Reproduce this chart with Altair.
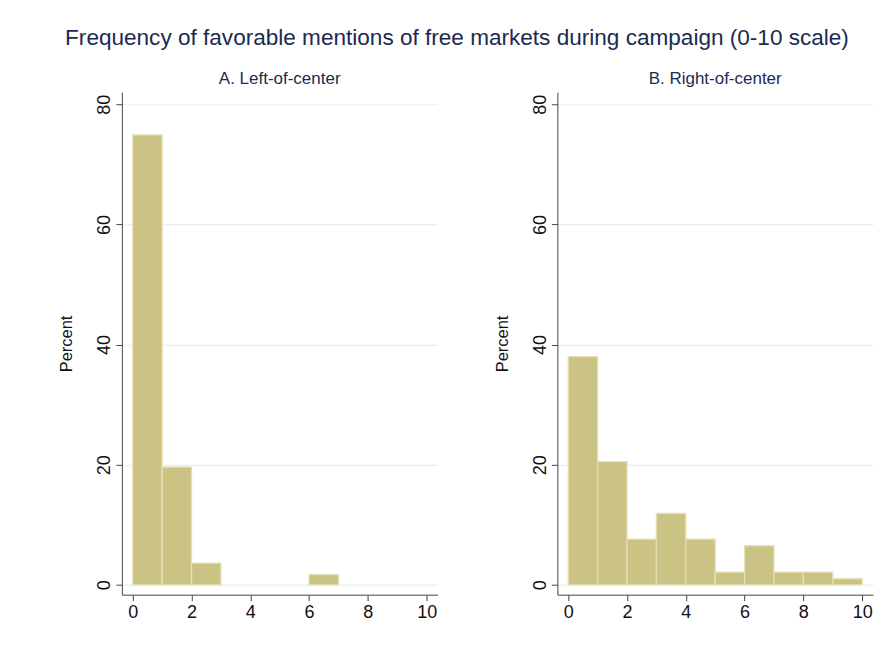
import altair as alt
import pandas as pd

# ---- data ----
bin_start = [0, 1, 2, 3, 4, 5, 6, 7, 8, 9]
bin_end = [1, 2, 3, 4, 5, 6, 7, 8, 9, 10]
left_pct = [74.9, 19.6, 3.6, 0.0, 0.0, 0.0, 1.7, 0.0, 0.0, 0.0]
right_pct = [38.0, 20.5, 7.6, 11.9, 7.6, 2.1, 6.5, 2.1, 2.1, 1.0]
x_ticks = [0, 2, 4, 6, 8, 10]
y_ticks = [0, 20, 40, 60, 80]
panel_titles = ["A. Left-of-center", "B. Right-of-center"]
main_title = "Frequency of favorable mentions of free markets during campaign (0-10 scale)"
y_title = "Percent"

FONT = "Liberation Sans"
NAVY = "#1c2a52"
FILL = "#cbc383"
STROKE = "#e4dfb5"
AXIS = "#444444"
GRID = "#e7eff0"


def panel(pcts, ttl):
    df = pd.DataFrame({"start": bin_start, "end": bin_end, "pct": pcts})
    df["base"] = 0.0
    return (
        alt.Chart(df)
        .transform_filter("datum.pct > 0")
        .mark_rect(fill=FILL, stroke=STROKE, strokeWidth=1.3)
        .encode(
            x=alt.X(
                "start:Q",
                scale=alt.Scale(domain=[-0.37, 10.37], nice=False, zero=False),
                axis=alt.Axis(
                    values=x_ticks, title=None, grid=False, labelFontSize=18,
                    labelFont=FONT, labelColor="#111111", tickSize=6,
                    tickColor=AXIS, domainColor=AXIS, labelPadding=3,
                    labelFlush=False,
                ),
            ),
            x2="end:Q",
            y=alt.Y(
                "pct:Q",
                scale=alt.Scale(domain=[-1.65, 82], nice=False, zero=False),
                axis=alt.Axis(
                    values=y_ticks, title=y_title, grid=True, gridColor=GRID,
                    gridWidth=1.2, labelAngle=270, labelFontSize=18,
                    labelFont=FONT, labelColor="#111111", tickSize=6,
                    tickColor=AXIS, domainColor=AXIS, labelPadding=2,
                    titleFont=FONT, titleFontSize=16.5, titleFontWeight="normal",
                    titleColor="#111111", titlePadding=21, labelFlush=False,
                ),
            ),
            y2="base:Q",
        )
        .properties(
            width=316,
            height=503,
            title=alt.TitleParams(
                ttl, font=FONT, fontSize=17, fontWeight="normal", color=NAVY,
                anchor="middle", offset=4,
            ),
        )
    )


chart = (
    alt.hconcat(panel(left_pct, panel_titles[0]), panel(right_pct, panel_titles[1]), spacing=56)
    .properties(
        title=alt.TitleParams(
            main_title, font=FONT, fontSize=22.6, fontWeight="normal", color=NAVY,
            anchor="middle", offset=21, dx=-9,
        ),
        padding={"left": 50, "top": 18, "right": 10, "bottom": 10},
        background="white",
    )
    .configure_view(strokeWidth=0)
)

chart.save("out.html", embed_options={"renderer": "svg", "actions": False})
